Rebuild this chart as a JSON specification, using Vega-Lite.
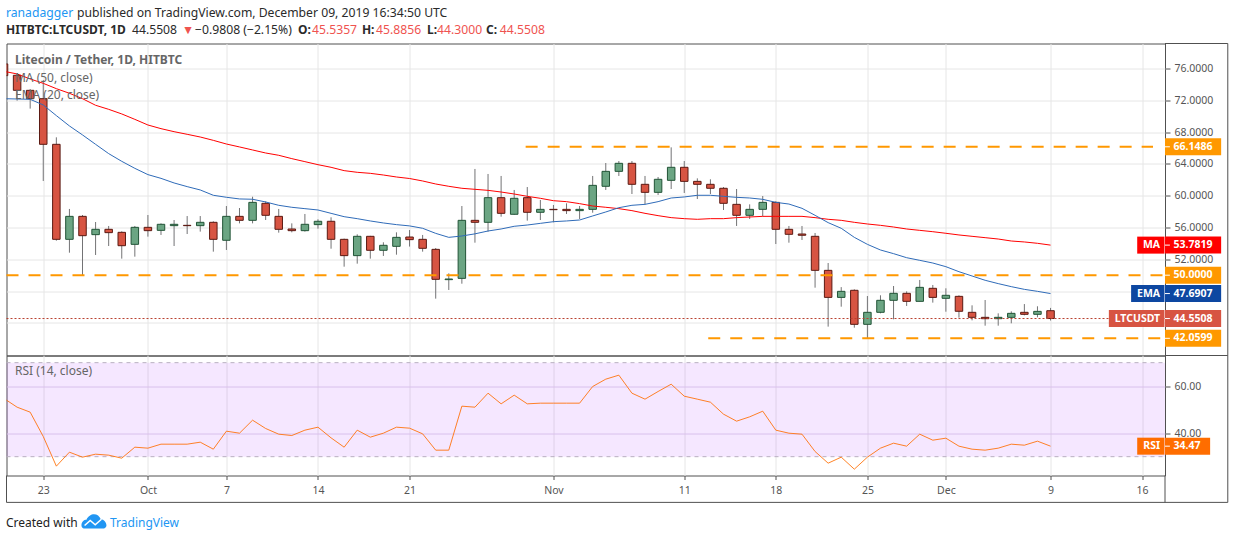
{
  "$schema": "https://vega.github.io/schema/vega-lite/v6.json",
  "background": "white",
  "padding": {"left": 4.5, "top": 6.5, "right": 0, "bottom": 0},
  "spacing": 0,
  "bounds": "flush",
  "config": {
    "font": "Noto Sans",
    "view": {"stroke": "#505050", "strokeWidth": 1}
  },
  "resolve": {"scale": {"color": "independent", "stroke": "independent"}},
  "datasets": {
    "candles": [
      {"date":"2019-09-20","open":76.57,"high":76.57,"low":75.06,"close":75.1,"dir":"down","ma":75.64,"ema":72.2,"rsi":54.75},
      {"date":"2019-09-21","open":75.14,"high":75.2,"low":71.95,"close":73.25,"dir":"down","ma":75.31,"ema":72.16,"rsi":51.06},
      {"date":"2019-09-22","open":73.25,"high":73.4,"low":70.95,"close":72.2,"dir":"down","ma":74.68,"ema":72.12,"rsi":48.94},
      {"date":"2019-09-23","open":72.2,"high":74.55,"low":61.85,"close":66.46,"dir":"down","ma":74.13,"ema":71.41,"rsi":38.58},
      {"date":"2019-09-24","open":66.46,"high":67.34,"low":54.34,"close":54.51,"dir":"down","ma":73.46,"ema":70.07,"rsi":25.96},
      {"date":"2019-09-25","open":54.51,"high":58.33,"low":52.83,"close":57.4,"dir":"up","ma":72.88,"ema":68.77,"rsi":31.91},
      {"date":"2019-09-26","open":57.4,"high":57.57,"low":49.98,"close":54.97,"dir":"down","ma":72.2,"ema":67.64,"rsi":29.79},
      {"date":"2019-09-27","open":55.1,"high":56.69,"low":52.54,"close":55.77,"dir":"up","ma":71.37,"ema":66.46,"rsi":31.06},
      {"date":"2019-09-28","open":55.77,"high":56.19,"low":53.67,"close":55.35,"dir":"down","ma":70.86,"ema":65.29,"rsi":30.64},
      {"date":"2019-09-29","open":55.39,"high":55.52,"low":52.08,"close":53.71,"dir":"down","ma":70.28,"ema":64.32,"rsi":29.36},
      {"date":"2019-09-30","open":53.88,"high":56.19,"low":52.33,"close":56.02,"dir":"up","ma":69.6,"ema":63.44,"rsi":34.04},
      {"date":"2019-10-01","open":56.02,"high":57.57,"low":54.85,"close":55.6,"dir":"down","ma":68.89,"ema":62.65,"rsi":33.62},
      {"date":"2019-10-02","open":55.64,"high":56.52,"low":55.06,"close":56.4,"dir":"up","ma":68.43,"ema":62.18,"rsi":35.32},
      {"date":"2019-10-03","open":56.23,"high":56.94,"low":53.67,"close":56.4,"dir":"up","ma":68.05,"ema":61.6,"rsi":35.32},
      {"date":"2019-10-04","open":56.27,"high":57.44,"low":55.18,"close":56.23,"dir":"down","ma":67.72,"ema":61.14,"rsi":35.32},
      {"date":"2019-10-05","open":56.23,"high":57.44,"low":55.48,"close":56.65,"dir":"up","ma":67.38,"ema":60.72,"rsi":36.17},
      {"date":"2019-10-06","open":56.65,"high":56.78,"low":52.96,"close":54.51,"dir":"down","ma":66.96,"ema":60.05,"rsi":33.19},
      {"date":"2019-10-07","open":54.39,"high":58.7,"low":53.17,"close":57.4,"dir":"up","ma":66.5,"ema":59.8,"rsi":40.85},
      {"date":"2019-10-08","open":57.4,"high":58.45,"low":56.52,"close":56.9,"dir":"down","ma":66.13,"ema":59.59,"rsi":40.0},
      {"date":"2019-10-09","open":56.9,"high":59.87,"low":56.52,"close":59.16,"dir":"up","ma":65.75,"ema":59.55,"rsi":45.53},
      {"date":"2019-10-10","open":59.04,"high":59.29,"low":56.94,"close":57.53,"dir":"down","ma":65.37,"ema":59.21,"rsi":41.99},
      {"date":"2019-10-11","open":57.4,"high":58.33,"low":55.35,"close":55.77,"dir":"down","ma":65.08,"ema":58.79,"rsi":39.57},
      {"date":"2019-10-12","open":55.81,"high":56.52,"low":55.39,"close":55.6,"dir":"down","ma":64.66,"ema":58.54,"rsi":39.0},
      {"date":"2019-10-13","open":55.6,"high":57.7,"low":55.48,"close":56.4,"dir":"up","ma":64.28,"ema":58.37,"rsi":41.28},
      {"date":"2019-10-14","open":56.36,"high":57.03,"low":55.85,"close":56.78,"dir":"up","ma":63.9,"ema":58.2,"rsi":42.55},
      {"date":"2019-10-15","open":56.78,"high":57.28,"low":53.33,"close":54.51,"dir":"down","ma":63.57,"ema":57.78,"rsi":38.01},
      {"date":"2019-10-16","open":54.51,"high":54.6,"low":51.07,"close":52.46,"dir":"down","ma":63.15,"ema":57.36,"rsi":34.04},
      {"date":"2019-10-17","open":52.46,"high":55.14,"low":51.45,"close":54.89,"dir":"up","ma":62.94,"ema":57.11,"rsi":41.28},
      {"date":"2019-10-18","open":54.89,"high":54.95,"low":52.08,"close":53.13,"dir":"down","ma":62.81,"ema":56.82,"rsi":38.3},
      {"date":"2019-10-19","open":53.13,"high":54.14,"low":52.42,"close":53.76,"dir":"up","ma":62.6,"ema":56.57,"rsi":40.0},
      {"date":"2019-10-20","open":53.63,"high":55.39,"low":52.58,"close":54.76,"dir":"up","ma":62.35,"ema":56.36,"rsi":42.55},
      {"date":"2019-10-21","open":54.8,"high":55.68,"low":53.6,"close":54.47,"dir":"down","ma":62.16,"ema":56.2,"rsi":42.13},
      {"date":"2019-10-22","open":54.51,"high":55.06,"low":52.96,"close":53.38,"dir":"down","ma":61.85,"ema":55.9,"rsi":39.72},
      {"date":"2019-10-23","open":53.25,"high":53.42,"low":47.05,"close":49.48,"dir":"down","ma":61.47,"ema":55.26,"rsi":32.77},
      {"date":"2019-10-24","open":49.44,"high":50.23,"low":48.14,"close":49.52,"dir":"up","ma":61.18,"ema":54.76,"rsi":32.77},
      {"date":"2019-10-25","open":49.6,"high":58.7,"low":48.93,"close":56.9,"dir":"up","ma":60.93,"ema":54.93,"rsi":51.49},
      {"date":"2019-10-26","open":56.9,"high":63.36,"low":54.09,"close":56.65,"dir":"down","ma":60.8,"ema":55.2,"rsi":51.06},
      {"date":"2019-10-27","open":56.65,"high":62.73,"low":55.48,"close":59.75,"dir":"up","ma":60.67,"ema":55.56,"rsi":57.02},
      {"date":"2019-10-28","open":59.75,"high":62.48,"low":57.36,"close":57.78,"dir":"down","ma":60.46,"ema":55.81,"rsi":52.48},
      {"date":"2019-10-29","open":57.66,"high":60.72,"low":57.6,"close":59.67,"dir":"up","ma":60.21,"ema":56.15,"rsi":56.17},
      {"date":"2019-10-30","open":59.75,"high":61.09,"low":56.86,"close":57.91,"dir":"down","ma":59.92,"ema":56.31,"rsi":52.48},
      {"date":"2019-10-31","open":57.91,"high":59.46,"low":56.94,"close":58.28,"dir":"up","ma":59.67,"ema":56.52,"rsi":52.77},
      {"date":"2019-11-01","open":58.28,"high":58.83,"low":56.65,"close":58.24,"dir":"down","ma":59.37,"ema":56.73,"rsi":52.77},
      {"date":"2019-11-02","open":58.28,"high":59.04,"low":57.7,"close":58.12,"dir":"down","ma":59.25,"ema":56.82,"rsi":52.77},
      {"date":"2019-11-03","open":58.12,"high":58.7,"low":57.07,"close":58.28,"dir":"up","ma":59.0,"ema":56.94,"rsi":52.77},
      {"date":"2019-11-04","open":58.28,"high":62.48,"low":57.86,"close":61.3,"dir":"up","ma":58.7,"ema":57.45,"rsi":59.86},
      {"date":"2019-11-05","open":61.18,"high":64.11,"low":60.72,"close":63.06,"dir":"up","ma":58.54,"ema":57.95,"rsi":62.98},
      {"date":"2019-11-06","open":63.06,"high":64.36,"low":62.48,"close":64.07,"dir":"up","ma":58.37,"ema":58.49,"rsi":64.68},
      {"date":"2019-11-07","open":64.07,"high":64.36,"low":60.21,"close":61.43,"dir":"down","ma":58.12,"ema":58.79,"rsi":57.02},
      {"date":"2019-11-08","open":61.43,"high":62.48,"low":58.91,"close":60.42,"dir":"down","ma":57.78,"ema":58.91,"rsi":54.47},
      {"date":"2019-11-09","open":60.42,"high":62.35,"low":60.09,"close":62.06,"dir":"up","ma":57.49,"ema":59.25,"rsi":57.73},
      {"date":"2019-11-10","open":61.93,"high":66.08,"low":60.84,"close":63.57,"dir":"up","ma":57.24,"ema":59.71,"rsi":60.85},
      {"date":"2019-11-11","open":63.57,"high":64.36,"low":60.34,"close":61.8,"dir":"down","ma":57.11,"ema":59.84,"rsi":55.74},
      {"date":"2019-11-12","open":61.8,"high":62.18,"low":59.58,"close":61.43,"dir":"down","ma":57.03,"ema":60.05,"rsi":54.47},
      {"date":"2019-11-13","open":61.43,"high":62.06,"low":60.21,"close":60.93,"dir":"down","ma":57.11,"ema":60.05,"rsi":53.19},
      {"date":"2019-11-14","open":60.93,"high":61.09,"low":58.2,"close":59.04,"dir":"down","ma":57.11,"ema":59.92,"rsi":48.09},
      {"date":"2019-11-15","open":58.91,"high":60.84,"low":56.19,"close":57.53,"dir":"down","ma":57.24,"ema":59.79,"rsi":45.11},
      {"date":"2019-11-16","open":57.53,"high":58.91,"low":57.07,"close":58.28,"dir":"up","ma":57.32,"ema":59.71,"rsi":46.95},
      {"date":"2019-11-17","open":58.28,"high":59.96,"low":57.4,"close":59.16,"dir":"up","ma":57.4,"ema":59.54,"rsi":49.36},
      {"date":"2019-11-18","open":59.16,"high":59.29,"low":53.92,"close":55.77,"dir":"down","ma":57.4,"ema":59.16,"rsi":41.28},
      {"date":"2019-11-19","open":55.77,"high":56.19,"low":54.09,"close":55.14,"dir":"down","ma":57.4,"ema":58.95,"rsi":40.0},
      {"date":"2019-11-20","open":55.18,"high":56.19,"low":54.43,"close":55.02,"dir":"down","ma":57.4,"ema":58.41,"rsi":39.57},
      {"date":"2019-11-21","open":54.89,"high":55.31,"low":48.43,"close":50.61,"dir":"down","ma":57.24,"ema":57.53,"rsi":32.2},
      {"date":"2019-11-22","open":50.61,"high":51.53,"low":43.53,"close":47.21,"dir":"down","ma":57.03,"ema":56.61,"rsi":27.23},
      {"date":"2019-11-23","open":47.21,"high":48.5,"low":46.04,"close":47.97,"dir":"up","ma":56.9,"ema":55.9,"rsi":29.79},
      {"date":"2019-11-24","open":48.1,"high":48.22,"low":43.4,"close":43.82,"dir":"down","ma":56.65,"ema":54.76,"rsi":24.68},
      {"date":"2019-11-25","open":43.82,"high":47.38,"low":42.06,"close":45.33,"dir":"up","ma":56.44,"ema":53.88,"rsi":29.79},
      {"date":"2019-11-26","open":45.33,"high":47.47,"low":45.2,"close":46.84,"dir":"up","ma":56.27,"ema":53.17,"rsi":33.62},
      {"date":"2019-11-27","open":46.84,"high":48.64,"low":44.45,"close":47.72,"dir":"up","ma":56.06,"ema":52.71,"rsi":35.74},
      {"date":"2019-11-28","open":47.72,"high":47.97,"low":46.13,"close":46.71,"dir":"down","ma":55.81,"ema":52.2,"rsi":34.47},
      {"date":"2019-11-29","open":46.71,"high":49.4,"low":46.71,"close":48.47,"dir":"up","ma":55.64,"ema":51.87,"rsi":39.57},
      {"date":"2019-11-30","open":48.35,"high":48.77,"low":46.55,"close":47.21,"dir":"down","ma":55.47,"ema":51.53,"rsi":37.02},
      {"date":"2019-12-01","open":47.09,"high":48.35,"low":45.41,"close":47.47,"dir":"up","ma":55.27,"ema":51.07,"rsi":37.87},
      {"date":"2019-12-02","open":47.34,"high":47.47,"low":44.66,"close":45.46,"dir":"down","ma":55.06,"ema":50.44,"rsi":34.47},
      {"date":"2019-12-03","open":45.33,"high":46.21,"low":44.32,"close":44.7,"dir":"down","ma":54.89,"ema":49.9,"rsi":33.19},
      {"date":"2019-12-04","open":44.7,"high":46.88,"low":43.65,"close":44.53,"dir":"down","ma":54.72,"ema":49.36,"rsi":32.77},
      {"date":"2019-12-05","open":44.53,"high":45.2,"low":43.65,"close":44.7,"dir":"up","ma":54.55,"ema":48.94,"rsi":33.62},
      {"date":"2019-12-06","open":44.7,"high":45.45,"low":43.95,"close":45.2,"dir":"up","ma":54.3,"ema":48.56,"rsi":35.32},
      {"date":"2019-12-07","open":45.33,"high":46.37,"low":44.95,"close":45.08,"dir":"down","ma":54.18,"ema":48.22,"rsi":34.89},
      {"date":"2019-12-08","open":45.08,"high":46.09,"low":44.7,"close":45.45,"dir":"up","ma":54.01,"ema":47.97,"rsi":36.6},
      {"date":"2019-12-09","open":45.5357,"high":45.8856,"low":44.3,"close":44.5508,"dir":"down","ma":53.7819,"ema":47.6907,"rsi":34.47}
    ]
  },
  "vconcat": [
    {
      "width": 1158.5,
      "height": 312,
      "resolve": {"scale": {"color": "independent", "stroke": "independent"}, "axis": {"x": "independent", "y": "independent"}},
      "encoding": {
        "x": {
          "field": "date",
          "type": "temporal",
          "title": null,
          "scale": {"type": "utc", "padding": 0, "domain": ["2019-09-20T04:33:00Z", "2019-12-17T18:00:00Z"]},
          "axis": null
        }
      },
      "layer": [
        {
          "data": {"name": "candles"},
          "mark": {"type": "rule", "color": "#737375", "strokeWidth": 1, "clip": true},
          "encoding": {
            "x": {
              "field": "date",
              "type": "temporal",
              "title": null,
              "axis": {
                "orient": "bottom",
                "values": ["2019-09-23","2019-10-01","2019-10-07","2019-10-14","2019-10-21","2019-11-01","2019-11-11","2019-11-18","2019-11-25","2019-12-01","2019-12-09","2019-12-16"],
                "labels": false,
                "ticks": false,
                "domain": false,
                "grid": true,
                "gridColor": "#e6e6e6"
              }
            },
            "y": {
              "field": "low",
              "type": "quantitative",
              "title": null,
              "scale": {"domain": [39.9, 79.14], "nice": false, "zero": false},
              "axis": {
                "orient": "right",
                "values": [44,48,52,56,60,64,68,72,76],
                "labelExpr": "datum.value < 50 ? '' : format(datum.value, '.4f')",
                "grid": true,
                "gridColor": "#e6e6e6",
                "domain": false,
                "tickSize": 5,
                "tickColor": "#505050",
                "labelPadding": 4,
                "labelFont": "Noto Sans",
                "labelFontSize": 10.5,
                "labelColor": "#555555"
              }
            },
            "y2": {"field": "high"}
          }
        },
        {
          "data": {"name": "candles"},
          "mark": {"type": "bar", "size": 7.5, "strokeWidth": 1, "clip": true, "orient": "vertical"},
          "encoding": {
            "y": {"field": "open", "type": "quantitative", "axis": null},
            "y2": {"field": "close"},
            "color": {"field": "dir", "type": "nominal", "legend": null, "scale": {"domain": ["up","down"], "range": ["#6ba583","#d75442"]}},
            "stroke": {"field": "dir", "type": "nominal", "legend": null, "scale": {"domain": ["up","down"], "range": ["#225437","#5b1a13"]}}
          }
        },
        {
          "data": {"name": "candles"},
          "mark": {"type": "line", "color": "#ff0000", "strokeWidth": 1, "clip": true},
          "encoding": {"y": {"field": "ma", "type": "quantitative", "axis": null}}
        },
        {
          "data": {"name": "candles"},
          "mark": {"type": "line", "color": "#2f6bb8", "strokeWidth": 1, "clip": true},
          "encoding": {"y": {"field": "ema", "type": "quantitative", "axis": null}}
        },
        {
          "data": {"values": [{"level": 44.5508, "date": "2019-09-20T04:33:00Z", "end": "2019-12-17T18:00:00Z"}]},
          "mark": {"type": "rule", "color": "#b8402f", "strokeWidth": 1, "strokeDash": [2, 2]},
          "encoding": {
            "x": {"field": "date", "type": "temporal", "axis": null},
            "x2": {"field": "end"},
            "y": {"field": "level", "type": "quantitative", "axis": null}
          }
        },
        {
          "data": {"values": [
            {"level": 66.1486, "date": "2019-10-29T21:00:00Z", "end": "2019-12-16T20:00:00Z"},
            {"level": 50.0, "date": "2019-09-20T04:33:00Z", "end": "2019-12-17T14:24:00Z"},
            {"level": 42.0599, "date": "2019-11-12T20:00:00Z", "end": "2019-12-17T10:00:00Z"}
          ]},
          "mark": {"type": "rule", "color": "#ff9800", "strokeWidth": 2, "strokeDash": [12, 10]},
          "encoding": {
            "x": {"field": "date", "type": "temporal", "axis": null},
            "x2": {"field": "end"},
            "y": {"field": "level", "type": "quantitative", "axis": null}
          }
        },
        {
          "data": {"values": [
            {"label": "MA", "date": "2019-12-15T15:00:00Z", "end": "2019-12-17T17:00:00Z", "level": 53.7819},
            {"label": "EMA", "date": "2019-12-15T03:50:00Z", "end": "2019-12-17T17:00:00Z", "level": 47.6907},
            {"label": "LTCUSDT", "date": "2019-12-13T11:00:00Z", "end": "2019-12-17T17:00:00Z", "level": 44.5508}
          ]},
          "mark": {"type": "rect", "height": 17},
          "encoding": {
            "x": {"field": "date", "type": "temporal", "axis": null},
            "x2": {"field": "end"},
            "y": {"field": "level", "type": "quantitative", "axis": null},
            "color": {"field": "label", "type": "nominal", "legend": null, "scale": {"domain": ["MA","EMA","LTCUSDT"], "range": ["#ff0000","#0d47a1","#d75442"]}}
          }
        },
        {
          "data": {"values": [
            {"label": "66.1486", "kind": "level", "date": "2019-12-17T18:00:00Z", "tick": "2019-12-18T03:00:00Z", "end": "2019-12-22T01:00:00Z", "level": 66.1486},
            {"label": "53.7819", "kind": "MA", "date": "2019-12-17T18:00:00Z", "tick": "2019-12-18T03:00:00Z", "end": "2019-12-22T01:00:00Z", "level": 53.7819},
            {"label": "50.0000", "kind": "level", "date": "2019-12-17T18:00:00Z", "tick": "2019-12-18T03:00:00Z", "end": "2019-12-22T01:00:00Z", "level": 50.0},
            {"label": "47.6907", "kind": "EMA", "date": "2019-12-17T18:00:00Z", "tick": "2019-12-18T03:00:00Z", "end": "2019-12-22T01:00:00Z", "level": 47.6907},
            {"label": "44.5508", "kind": "LTCUSDT", "date": "2019-12-17T18:00:00Z", "tick": "2019-12-18T03:00:00Z", "end": "2019-12-22T01:00:00Z", "level": 44.5508},
            {"label": "42.0599", "kind": "level", "date": "2019-12-17T18:00:00Z", "tick": "2019-12-18T03:00:00Z", "end": "2019-12-22T01:00:00Z", "level": 42.0599}
          ]},
          "layer": [
            {
              "mark": {"type": "rect", "height": 17},
              "encoding": {
                "x": {"field": "date", "type": "temporal", "axis": null},
                "x2": {"field": "end"},
                "y": {"field": "level", "type": "quantitative", "axis": null},
                "color": {"field": "kind", "type": "nominal", "legend": null, "scale": {"domain": ["level","MA","EMA","LTCUSDT"], "range": ["#ff9800","#ff0000","#0d47a1","#d75442"]}}
              }
            },
            {
              "mark": {"type": "rule", "color": "white", "strokeWidth": 1},
              "encoding": {
                "x": {"field": "date", "type": "temporal", "axis": null},
                "x2": {"field": "tick"},
                "y": {"field": "level", "type": "quantitative", "axis": null}
              }
            },
            {
              "mark": {"type": "text", "align": "left", "baseline": "middle", "dx": 8.5, "color": "white", "fontSize": 10.5, "fontWeight": "bold"},
              "encoding": {
                "x": {"field": "date", "type": "temporal", "axis": null},
                "y": {"field": "level", "type": "quantitative", "axis": null},
                "text": {"field": "label"}
              }
            }
          ],
          "resolve": {"scale": {"color": "independent"}}
        },
        {
          "data": {"values": [
            {"label": "MA", "date": "2019-12-17T09:00:00Z", "level": 53.7819},
            {"label": "EMA", "date": "2019-12-17T09:00:00Z", "level": 47.6907},
            {"label": "LTCUSDT", "date": "2019-12-17T09:00:00Z", "level": 44.5508}
          ]},
          "mark": {"type": "text", "align": "right", "baseline": "middle", "color": "white", "fontSize": 10.5, "fontWeight": "bold"},
          "encoding": {
            "x": {"field": "date", "type": "temporal", "axis": null},
            "y": {"field": "level", "type": "quantitative", "axis": null},
            "text": {"field": "label"}
          }
        },
        {
          "data": {"values": [
            {"date": "2019-12-17T18:00:00Z", "end": "2019-12-22T13:12:00Z", "level": 79.14},
            {"date": "2019-12-17T18:00:00Z", "end": "2019-12-22T13:12:00Z", "level": 39.9}
          ]},
          "mark": {"type": "rule", "color": "#505050", "strokeWidth": 1},
          "encoding": {
            "x": {"field": "date", "type": "temporal", "axis": null},
            "x2": {"field": "end"},
            "y": {"field": "level", "type": "quantitative", "axis": null}
          }
        },
        {
          "data": {"values": [{"date": "2019-12-22T13:12:00Z", "top": 79.14, "bottom": 39.9}]},
          "mark": {"type": "rule", "color": "#505050", "strokeWidth": 1},
          "encoding": {
            "x": {"field": "date", "type": "temporal", "axis": null},
            "y": {"field": "top", "type": "quantitative", "axis": null},
            "y2": {"field": "bottom"}
          }
        },
        {
          "data": {"values": [
            {"text": "ranadagger", "kind": "user", "date": "2019-09-20T03:33:00Z", "level": 82.97},
            {"text": "published on TradingView.com, December 09, 2019 16:34:50 UTC", "kind": "plain", "date": "2019-09-25T13:50:00Z", "level": 82.97},
            {"text": "44.5508", "kind": "plain", "date": "2019-09-29T18:44:00Z", "level": 80.84},
            {"text": "▼", "kind": "value", "date": "2019-10-03T14:24:00Z", "level": 80.84},
            {"text": "−0.9808 (−2.15%)", "kind": "plain", "date": "2019-10-04T14:24:00Z", "level": 80.84},
            {"text": "45.5357", "kind": "value", "date": "2019-10-13T13:00:00Z", "level": 80.84},
            {"text": "45.8856", "kind": "value", "date": "2019-10-18T10:33:00Z", "level": 80.84},
            {"text": "44.3000", "kind": "value", "date": "2019-10-23T02:24:00Z", "level": 80.84},
            {"text": "44.5508", "kind": "value", "date": "2019-10-27T21:36:00Z", "level": 80.84}
          ]},
          "mark": {"type": "text", "align": "left", "baseline": "middle", "fontSize": 12.2},
          "encoding": {
            "x": {"field": "date", "type": "temporal", "axis": null},
            "y": {"field": "level", "type": "quantitative", "axis": null},
            "text": {"field": "text"},
            "color": {"field": "kind", "type": "nominal", "legend": null, "scale": {"domain": ["user","plain","value"], "range": ["#2196f3","#2a2a2a","#ef5350"]}}
          }
        },
        {
          "data": {"values": [
            {"text": "HITBTC:LTCUSDT, 1D", "date": "2019-09-20T03:33:00Z", "level": 80.84},
            {"text": "O:", "date": "2019-10-12T11:17:00Z", "level": 80.84},
            {"text": "H:", "date": "2019-10-17T08:38:00Z", "level": 80.84},
            {"text": "L:", "date": "2019-10-22T08:00:00Z", "level": 80.84},
            {"text": "C:", "date": "2019-10-26T20:10:00Z", "level": 80.84}
          ]},
          "mark": {"type": "text", "align": "left", "baseline": "middle", "fontSize": 12, "fontWeight": "bold", "color": "#2a2a2a"},
          "encoding": {
            "x": {"field": "date", "type": "temporal", "axis": null},
            "y": {"field": "level", "type": "quantitative", "axis": null},
            "text": {"field": "text"}
          }
        },
        {
          "data": {"values": [{"text": "Litecoin / Tether, 1D, HITBTC", "date": "2019-09-20T20:04:00Z", "level": 77.07}]},
          "mark": {"type": "text", "align": "left", "baseline": "middle", "fontSize": 12, "fontWeight": "bold", "color": "#666666"},
          "encoding": {
            "x": {"field": "date", "type": "temporal", "axis": null},
            "y": {"field": "level", "type": "quantitative", "axis": null},
            "text": {"field": "text"}
          }
        },
        {
          "data": {"values": [
            {"text": "MA (50, close)", "date": "2019-09-20T20:04:00Z", "level": 74.8},
            {"text": "EMA (20, close)", "date": "2019-09-20T20:04:00Z", "level": 72.67}
          ]},
          "mark": {"type": "text", "align": "left", "baseline": "middle", "fontSize": 12, "color": "#666666"},
          "encoding": {
            "x": {"field": "date", "type": "temporal", "axis": null},
            "y": {"field": "level", "type": "quantitative", "axis": null},
            "text": {"field": "text"}
          }
        }
      ]
    },
    {
      "width": 1158.5,
      "height": 120,
      "resolve": {"scale": {"color": "independent"}, "axis": {"x": "independent", "y": "independent"}},
      "encoding": {
        "x": {
          "field": "date",
          "type": "temporal",
          "title": null,
          "scale": {"type": "utc", "padding": 0, "domain": ["2019-09-20T04:33:00Z", "2019-12-17T18:00:00Z"]},
          "axis": null
        }
      },
      "layer": [
        {
          "data": {"values": [{"top": 70, "bottom": 30, "date": "2019-09-20T04:33:00Z", "end": "2019-12-17T18:00:00Z"}]},
          "mark": {"type": "rect", "color": "#9915ff", "opacity": 0.1},
          "encoding": {
            "x": {
              "field": "date",
              "type": "temporal",
              "title": null,
              "axis": {
                "orient": "bottom",
                "values": ["2019-09-23","2019-10-01","2019-10-07","2019-10-14","2019-10-21","2019-11-01","2019-11-11","2019-11-18","2019-11-25","2019-12-01","2019-12-09","2019-12-16"],
                "labelExpr": "utcdate(datum.value) == 1 ? utcFormat(datum.value, '%b') : utcFormat(datum.value, '%-d')",
                "grid": true,
                "gridColor": "#e6e6e6",
                "domain": false,
                "tickSize": 4,
                "tickColor": "#505050",
                "labelPadding": 6,
                "labelFlush": false,
                "labelFont": "Noto Sans",
                "labelFontSize": 10.5,
                "labelColor": "#555555"
              }
            },
            "x2": {"field": "end"},
            "y": {
              "field": "top",
              "type": "quantitative",
              "title": null,
              "scale": {"domain": [21.99, 73.05], "nice": false, "zero": false},
              "axis": {"orient": "right", "values": [40, 60], "format": ".2f", "grid": true, "gridColor": "#e0d4ea", "domain": false, "tickSize": 5, "tickColor": "#505050", "labelPadding": 4, "labelFont": "Noto Sans", "labelFontSize": 10.5, "labelColor": "#555555"}
            },
            "y2": {"field": "bottom"}
          }
        },
        {
          "data": {"values": [
            {"rsi": 70, "date": "2019-09-20T04:33:00Z", "end": "2019-12-17T18:00:00Z"},
            {"rsi": 30, "date": "2019-09-20T04:33:00Z", "end": "2019-12-17T18:00:00Z"}
          ]},
          "mark": {"type": "rule", "color": "#b8b0c0", "strokeWidth": 1, "strokeDash": [4, 4]},
          "encoding": {
            "x2": {"field": "end"},
            "y": {"field": "rsi", "type": "quantitative", "axis": null}
          }
        },
        {
          "data": {"name": "candles"},
          "mark": {"type": "line", "color": "#ff6d00", "strokeWidth": 1, "opacity": 0.85, "clip": true},
          "encoding": {"y": {"field": "rsi", "type": "quantitative", "axis": null}}
        },
        {
          "data": {"values": [
            {"label": "RSI", "date": "2019-12-15T15:00:00Z", "end": "2019-12-17T17:00:00Z", "rsi": 34.47},
            {"label": "value", "date": "2019-12-17T18:00:00Z", "end": "2019-12-21T04:48:00Z", "rsi": 34.47}
          ]},
          "mark": {"type": "rect", "height": 17, "color": "#ff6d00"},
          "encoding": {
            "x": {"field": "date", "type": "temporal", "axis": null},
            "x2": {"field": "end"},
            "y": {"field": "rsi", "type": "quantitative", "axis": null}
          }
        },
        {
          "data": {"values": [{"date": "2019-12-17T18:00:00Z", "tick": "2019-12-18T03:00:00Z", "rsi": 34.47}]},
          "mark": {"type": "rule", "color": "white", "strokeWidth": 1},
          "encoding": {
            "x": {"field": "date", "type": "temporal", "axis": null},
            "x2": {"field": "tick"},
            "y": {"field": "rsi", "type": "quantitative", "axis": null}
          }
        },
        {
          "data": {"values": [{"text": "34.47", "date": "2019-12-17T18:00:00Z", "rsi": 34.47}]},
          "mark": {"type": "text", "align": "left", "baseline": "middle", "dx": 8.5, "color": "white", "fontSize": 10.5, "fontWeight": "bold"},
          "encoding": {
            "x": {"field": "date", "type": "temporal", "axis": null},
            "y": {"field": "rsi", "type": "quantitative", "axis": null},
            "text": {"field": "text"}
          }
        },
        {
          "data": {"values": [{"text": "RSI", "date": "2019-12-17T09:00:00Z", "rsi": 34.47}]},
          "mark": {"type": "text", "align": "right", "baseline": "middle", "color": "white", "fontSize": 10.5, "fontWeight": "bold"},
          "encoding": {
            "x": {"field": "date", "type": "temporal", "axis": null},
            "y": {"field": "rsi", "type": "quantitative", "axis": null},
            "text": {"field": "text"}
          }
        },
        {
          "data": {"values": [{"text": "RSI (14, close)", "date": "2019-09-20T20:04:00Z", "rsi": 66.3}]},
          "mark": {"type": "text", "align": "left", "baseline": "middle", "fontSize": 12, "color": "#666666"},
          "encoding": {
            "x": {"field": "date", "type": "temporal", "axis": null},
            "y": {"field": "rsi", "type": "quantitative", "axis": null},
            "text": {"field": "text"}
          }
        },
        {
          "data": {"values": [
            {"date": "2019-09-20T04:33:00Z", "end": "2019-12-22T13:12:00Z", "rsi": 10.55}
          ]},
          "mark": {"type": "rule", "color": "#505050", "strokeWidth": 1},
          "encoding": {
            "x": {"field": "date", "type": "temporal", "axis": null},
            "x2": {"field": "end"},
            "y": {"field": "rsi", "type": "quantitative", "axis": null}
          }
        },
        {
          "data": {"values": [
            {"date": "2019-09-20T04:33:00Z", "top": 21.99, "bottom": 10.55},
            {"date": "2019-12-17T18:00:00Z", "top": 21.99, "bottom": 10.55},
            {"date": "2019-12-22T13:12:00Z", "top": 73.05, "bottom": 10.55}
          ]},
          "mark": {"type": "rule", "color": "#505050", "strokeWidth": 1},
          "encoding": {
            "x": {"field": "date", "type": "temporal", "axis": null},
            "y": {"field": "top", "type": "quantitative", "axis": null},
            "y2": {"field": "bottom"}
          }
        },
        {
          "data": {"values": [{"text": "Created with", "date": "2019-09-20T03:33:00Z", "rsi": 1.9}]},
          "mark": {"type": "text", "align": "left", "baseline": "middle", "fontSize": 12, "color": "#222222"},
          "encoding": {
            "x": {"field": "date", "type": "temporal", "axis": null},
            "y": {"field": "rsi", "type": "quantitative", "axis": null},
            "text": {"field": "text"}
          }
        },
        {
          "data": {"values": [{"text": "TradingView", "date": "2019-09-28T02:24:00Z", "rsi": 1.9}]},
          "mark": {"type": "text", "align": "left", "baseline": "middle", "fontSize": 12, "color": "#2196f3"},
          "encoding": {
            "x": {"field": "date", "type": "temporal", "axis": null},
            "y": {"field": "rsi", "type": "quantitative", "axis": null},
            "text": {"field": "text"}
          }
        },
        {
          "data": {"values": [{"date": "2019-09-26T21:00:00Z", "rsi": 2.6}]},
          "mark": {"type": "point", "filled": true, "size": 625, "opacity": 1, "color": "#2196f3", "shape": "M-1,0.35 C-1,0.05 -0.8,-0.1 -0.6,-0.1 C-0.5,-0.4 -0.2,-0.55 0,-0.55 C0.25,-0.55 0.45,-0.4 0.55,-0.15 C0.8,-0.15 1,0.1 1,0.35 C1,0.5 0.85,0.6 0.7,0.6 L-0.7,0.6 C-0.9,0.6 -1,0.5 -1,0.35 Z"},
          "encoding": {
            "x": {"field": "date", "type": "temporal", "axis": null},
            "y": {"field": "rsi", "type": "quantitative", "axis": null}
          }
        },
        {
          "data": {"values": [{"date": "2019-09-26T21:00:00Z", "rsi": 2.6}]},
          "mark": {"type": "point", "filled": false, "size": 625, "opacity": 1, "stroke": "white", "strokeWidth": 1.5, "shape": "M-0.75,0.35 L-0.3,-0.05 L0.1,0.3 L0.6,-0.15"},
          "encoding": {
            "x": {"field": "date", "type": "temporal", "axis": null},
            "y": {"field": "rsi", "type": "quantitative", "axis": null}
          }
        }
      ]
    }
  ]
}
